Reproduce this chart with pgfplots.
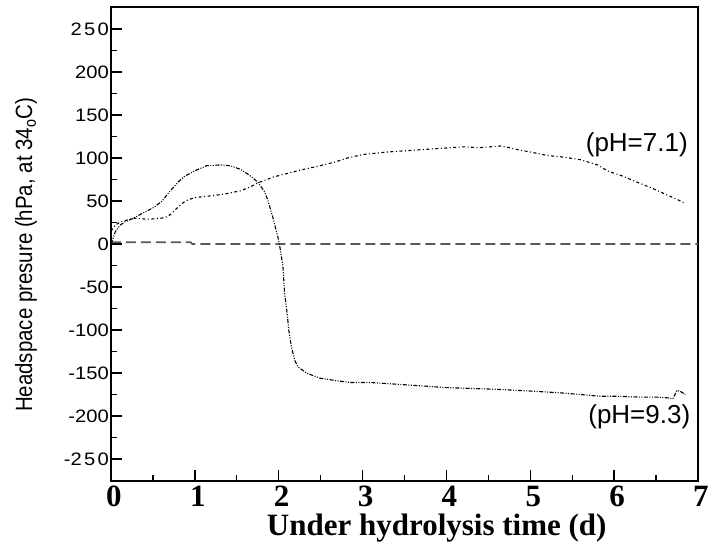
\documentclass[border=0pt]{standalone}
\usepackage{fontspec}
\usepackage{graphicx}
\usepackage{pgfplots}
\pgfplotsset{compat=1.18}
\setmainfont{Liberation Serif}
\newfontfamily\arial{Liberation Sans}
\newcommand{\tl}[1]{\scalebox{1.12}[1]{#1}}

\begin{document}
\begin{tikzpicture}
\useasboundingbox (-111pt,-68pt) rectangle (601pt,481pt);
\begin{axis}[
  at={(0,0)}, anchor=south west,
  scale only axis, width=587pt, height=474pt,
  xmin=0, xmax=7, ymin=-275.6, ymax=275.6,
  xtick={0,1,2,3,4,5,6,7},
  xticklabels={0,1,2,3,4,5,6,7},
  minor x tick num=1,
  ytick={-250,-200,-150,-100,-50,0,50,100,150,200,250},
  yticklabels={\tl{-2\kern2pt5\kern2pt0},\tl{-200},\tl{-150},\tl{-100},\tl{-50},\tl{0},\tl{50},\tl{100},\tl{150},\tl{200},\tl{2\kern2pt5\kern2pt0}},
  minor y tick num=1,
  xtick pos=bottom, ytick pos=left,
  tick align=inside,
  major tick length=11pt, minor tick length=6pt,
  every tick/.style={black, line width=1.3pt},
  axis line style={line width=1.3pt},
  xticklabel style={font=\fontsize{31}{31}\selectfont\bfseries, inner sep=5pt, xshift=3pt},
  yticklabel style={font=\arial\fontsize{18}{18}\selectfont, inner sep=2pt},
  clip=false,
]
% zero reference line
\addplot[gray!70!black, line width=1.8pt, dash pattern=on 10pt off 5pt] coordinates {
(0,2) (0.95,2) (0.97,0) (7,0)};

% pH = 9.3
\addplot[black, line width=1.1pt, dash pattern=on 4pt off 1.5pt on 1pt off 1.5pt on 1pt off 1.5pt] coordinates {
(0,0) (0.02,5) (0.05,14) (0.11,22) (0.17,26) (0.27,30) (0.38,36) (0.5,42) (0.6,49)
(0.7,61) (0.8,72) (0.88,79) (1.02,86) (1.14,91) (1.31,92) (1.42,91) (1.54,87)
(1.65,80) (1.75,72) (1.83,61) (1.87,51) (1.93,31) (1.99,8) (2.01,-1) (2.05,-26)
(2.07,-57) (2.10,-80) (2.12,-100) (2.15,-119) (2.19,-135) (2.23,-143) (2.33,-150)
(2.49,-156) (2.69,-159) (2.85,-161) (3.08,-161) (3.4,-163) (3.7,-165) (4.0,-167)
(4.3,-168) (4.6,-169) (5.0,-171) (5.35,-173) (5.6,-175) (5.82,-177) (6.0,-177)
(6.3,-178) (6.5,-178) (6.65,-179) (6.7,-180) (6.75,-170) (6.8,-172) (6.85,-175)};

% pH = 7.1
\addplot[black, line width=1.1pt, dash pattern=on 3pt off 2.5pt on 1pt off 2.5pt] coordinates {
(0,15) (0.05,22) (0.12,26) (0.28,30) (0.4,29) (0.48,29) (0.6,30) (0.68,32) (0.75,38)
(0.8,43) (0.86,48) (0.91,51) (1.0,54) (1.19,56) (1.35,58) (1.55,62) (1.65,66)
(1.75,71) (1.94,78) (2.1,82) (2.26,86) (2.45,90) (2.66,95) (2.82,100) (3.0,104)
(3.3,107) (3.6,109) (3.9,111) (4.2,113) (4.4,112) (4.64,114) (4.75,112) (4.88,109)
(5.0,107) (5.2,103) (5.4,101) (5.6,98) (5.8,92) (5.92,85) (6.1,79) (6.27,72)
(6.45,65) (6.63,57) (6.75,52) (6.85,47)};

\node[font=\arial\fontsize{26}{26}\selectfont, inner sep=0pt] at (axis cs:6.27,115) {(pH=7.1)};
\node[font=\arial\fontsize{26}{26}\selectfont, inner sep=0pt] at (axis cs:6.30,-201) {(pH=9.3)};

\node[font=\arial\fontsize{23.5}{23.5}\selectfont, rotate=90, inner sep=0pt]
  at ([xshift=-85pt]rel axis cs:0,0.477) {\scalebox{0.87}[1]{Headspace presure (hPa, at 34\textsubscript{o}C)}};
\node[font=\fontsize{31}{31}\selectfont\bfseries, anchor=north, inner sep=0pt]
  at ([yshift=-33pt]rel axis cs:0.555,0) {Under hydrolysis time (d)};
\end{axis}
\end{tikzpicture}
\end{document}
